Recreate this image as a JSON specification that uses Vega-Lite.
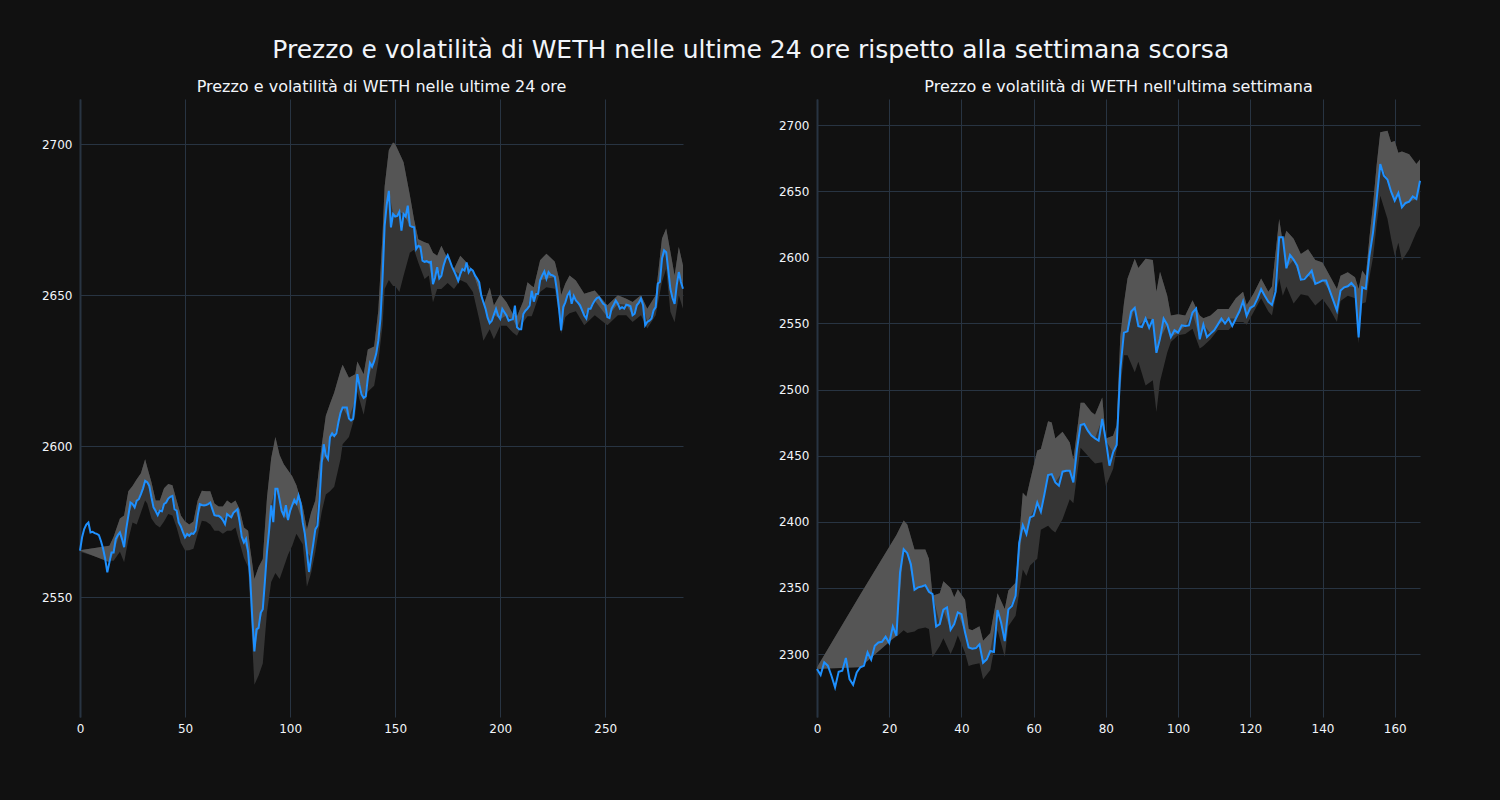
{
  "$schema": "https://vega.github.io/schema/vega-lite/v6.json",
  "background": "#111111",
  "padding": {"left": 41, "top": 38, "right": 80, "bottom": 70},
  "title": {"text": "Prezzo e volatilità di WETH nelle ultime 24 ore rispetto alla settimana scorsa", "fontSize": 25, "font": "DejaVu Sans", "fontWeight": "normal", "color": "#f2f5fa", "anchor": "middle", "offset": 16, "dx": 18},
  "config": {
    "view": {"stroke": null},
    "font": "DejaVu Sans",
    "title": {"font": "DejaVu Sans", "fontWeight": "normal", "color": "#f2f5fa"},
    "axis": {"labelFont": "DejaVu Sans", "labelFontSize": 12, "labelColor": "#f2f5fa", "gridColor": "#283442", "gridWidth": 1, "ticks": false, "title": null, "labelPadding": 8, "format": "d"},
    "axisX": {"labelPadding": 6, "labelFlush": false}
  },
  "spacing": 134,
  "bounds": "flush",
  "datasets": {
    "day": [
      {"x":0,"p":2565.4,"lo":2565,"hi":2565.5},{"x":1,"p":2569.8},{"x":2,"p":2572.5},{"x":3,"p":2574},{"x":4,"p":2574.7},{"x":5,"p":2571.4},{"x":6,"p":2571.6},{"x":7,"p":2571.2},{"x":8,"p":2570.9},{"x":9,"p":2570.5},
      {"x":10,"p":2568.5},{"x":11,"p":2566},{"x":12,"p":2562.6},{"x":13,"p":2558.2},{"x":14,"p":2561.5,"lo":2562,"hi":2567},{"x":15,"p":2564.8},{"x":16,"p":2564.8,"lo":2562,"hi":2570},{"x":17,"p":2569.2},{"x":18,"p":2570.5},{"x":19,"p":2571.4,"lo":2565,"hi":2576},
      {"x":20,"p":2569.2},{"x":21,"p":2566.5,"lo":2561.5,"hi":2577},{"x":22,"p":2572.5},{"x":23,"p":2576.9,"lo":2569,"hi":2585},{"x":24,"p":2581.3},{"x":25,"p":2580.8,"lo":2574.7,"hi":2586.8},{"x":26,"p":2579.7},{"x":27,"p":2581.9,"lo":2574,"hi":2589},{"x":28,"p":2582.4},{"x":29,"p":2584.1,"lo":2578,"hi":2591},
      {"x":30,"p":2586},{"x":31,"p":2588.5,"lo":2582,"hi":2595.6},{"x":32,"p":2588,"lo":2581,"hi":2593},{"x":33,"p":2586.8},{"x":34,"p":2583,"lo":2576,"hi":2588},{"x":35,"p":2579.7},{"x":36,"p":2578.5,"lo":2574,"hi":2582},{"x":37,"p":2577.1},{"x":38,"p":2578.6,"lo":2573,"hi":2582},{"x":39,"p":2578.4},
      {"x":40,"p":2580.8,"lo":2575,"hi":2586},{"x":41,"p":2581.3},{"x":42,"p":2582.6,"lo":2577.5,"hi":2587.4},{"x":43,"p":2583.2},{"x":44,"p":2583.5,"lo":2577,"hi":2587},{"x":45,"p":2579.1},{"x":46,"p":2578.6,"lo":2573,"hi":2582},{"x":47,"p":2574.7},{"x":48,"p":2573.4,"lo":2568,"hi":2577},{"x":49,"p":2571.5},
      {"x":50,"p":2569.8,"lo":2565.4,"hi":2575},{"x":51,"p":2570.9},{"x":52,"p":2570.3,"lo":2565.5,"hi":2574},{"x":53,"p":2571.1},{"x":54,"p":2570.9,"lo":2566,"hi":2575},{"x":55,"p":2572},{"x":56,"p":2576.9,"lo":2571,"hi":2582},{"x":57,"p":2580.8},{"x":58,"p":2580.5,"lo":2575.3,"hi":2585.2},{"x":59,"p":2580.3},
      {"x":60,"p":2580.5,"lo":2575,"hi":2585},{"x":61,"p":2580.8},{"x":62,"p":2581.3,"lo":2574,"hi":2585},{"x":63,"p":2579.1},{"x":64,"p":2577.1,"lo":2572,"hi":2581},{"x":65,"p":2576.9},{"x":66,"p":2576.9,"lo":2572,"hi":2580},{"x":67,"p":2576.4},{"x":68,"p":2575.5,"lo":2571,"hi":2580},{"x":69,"p":2574.2},
      {"x":70,"p":2577.5,"lo":2572,"hi":2582},{"x":71,"p":2576.9},{"x":72,"p":2576.4,"lo":2572,"hi":2581},{"x":73,"p":2577.9},{"x":74,"p":2578.5,"lo":2573,"hi":2582},{"x":75,"p":2579.1},{"x":76,"p":2574.8,"lo":2568,"hi":2579},{"x":77,"p":2570},{"x":78,"p":2568.1,"lo":2563,"hi":2573},{"x":79,"p":2569.3},
      {"x":80,"p":2565,"lo":2560,"hi":2572},{"x":81,"p":2556.5,"lo":2548,"hi":2566},{"x":82,"p":2543},{"x":83,"p":2532,"lo":2521,"hi":2556},{"x":84,"p":2539.3},{"x":85,"p":2539.8,"lo":2524,"hi":2560},{"x":86,"p":2544.8},{"x":87,"p":2546,"lo":2528,"hi":2562.6},{"x":88,"p":2555.2},{"x":89,"p":2565,"lo":2545,"hi":2583},
      {"x":90,"p":2572},{"x":91,"p":2580.4,"lo":2555,"hi":2596},{"x":92,"p":2574.8},{"x":93,"p":2585.9,"lo":2558,"hi":2603},{"x":94,"p":2585.9},{"x":95,"p":2582.2,"lo":2556,"hi":2597},{"x":96,"p":2578.5},{"x":97,"p":2577,"lo":2560,"hi":2594},{"x":98,"p":2580.4},{"x":99,"p":2575.5,"lo":2564,"hi":2592},
      {"x":100,"p":2578.5},{"x":101,"p":2580.4,"lo":2567,"hi":2590},{"x":102,"p":2582.2},{"x":103,"p":2581,"lo":2571,"hi":2587},{"x":104,"p":2583.6},{"x":105,"p":2581},{"x":106,"p":2574.8,"lo":2567.5,"hi":2580},{"x":107,"p":2571},{"x":108,"p":2565,"lo":2553.4,"hi":2572.4},{"x":109,"p":2558.3},
      {"x":110,"p":2563,"lo":2558,"hi":2578},{"x":111,"p":2567.5},{"x":112,"p":2572.4,"lo":2565,"hi":2582},{"x":113,"p":2573.6},{"x":114,"p":2582.2},{"x":115,"p":2594.4,"lo":2578,"hi":2600},{"x":116,"p":2600.6},{"x":117,"p":2596.9,"lo":2584,"hi":2610},{"x":118,"p":2595.7},{"x":119,"p":2603,"lo":2585,"hi":2614},
      {"x":120,"p":2604.2},{"x":121,"p":2603.3,"lo":2586.5,"hi":2617.7},{"x":122,"p":2604.2},{"x":123,"p":2607.9},{"x":124,"p":2611,"lo":2595.7,"hi":2625},{"x":125,"p":2612.8,"lo":2600.6,"hi":2626.9},{"x":126,"p":2612.8},{"x":127,"p":2612.8},{"x":128,"p":2609.1,"lo":2603,"hi":2622.6},{"x":129,"p":2608.5},
      {"x":130,"p":2609},{"x":131,"p":2615.3,"lo":2610.4,"hi":2623.8},{"x":132,"p":2623.8,"lo":2618,"hi":2628},{"x":133,"p":2620.2},{"x":134,"p":2617.1},{"x":135,"p":2615.9,"lo":2610.4,"hi":2623.8},{"x":136,"p":2616.5},{"x":137,"p":2622.6,"lo":2618,"hi":2632},{"x":138,"p":2627.5},{"x":139,"p":2626.3},
      {"x":140,"p":2628.1,"lo":2620,"hi":2633},{"x":141,"p":2630.6},{"x":142,"p":2634.9,"lo":2628,"hi":2645},{"x":143,"p":2642.2},{"x":144,"p":2655.7,"lo":2640,"hi":2670},{"x":145,"p":2673,"lo":2652,"hi":2686},{"x":146,"p":2680},{"x":147,"p":2684.5,"lo":2655,"hi":2698},{"x":148,"p":2672.4},{"x":149,"p":2676.8,"lo":2653,"hi":2700.5},
      {"x":150,"p":2676,"lo":2653,"hi":2700},{"x":151,"p":2676.2},{"x":152,"p":2677.6,"lo":2651,"hi":2697},{"x":153,"p":2671.3},{"x":154,"p":2676.8,"lo":2656.4,"hi":2694},{"x":155,"p":2676},{"x":156,"p":2679.6},{"x":157,"p":2673,"lo":2664,"hi":2683},{"x":158,"p":2672.6},{"x":159,"p":2672.4,"lo":2665,"hi":2675},
      {"x":160,"p":2665.2},{"x":161,"p":2666.3,"lo":2660.8,"hi":2668.5},{"x":162,"p":2666},{"x":163,"p":2661.4},{"x":164,"p":2661,"lo":2655.3,"hi":2667.5},{"x":165,"p":2661.2},{"x":166,"p":2660.8,"lo":2656.5,"hi":2667},{"x":167,"p":2661},{"x":168,"p":2653.6,"lo":2647.6,"hi":2664},{"x":169,"p":2655.8},
      {"x":170,"p":2659.2,"lo":2652,"hi":2663},{"x":171,"p":2655.5},{"x":172,"p":2656.4,"lo":2652,"hi":2666.3},{"x":173,"p":2659.7},{"x":174,"p":2661.9},{"x":175,"p":2663.2,"lo":2654,"hi":2662},{"x":176,"p":2661.4},{"x":177,"p":2659.5},{"x":178,"p":2658,"lo":2652,"hi":2658.6},{"x":179,"p":2656.4},
      {"x":180,"p":2654.7},{"x":181,"p":2656.9,"lo":2655,"hi":2663},{"x":182,"p":2658.6},{"x":183,"p":2658.1},{"x":184,"p":2660.8,"lo":2654,"hi":2660.8},{"x":185,"p":2657.5},{"x":186,"p":2658.6},{"x":187,"p":2658.1,"lo":2651,"hi":2657.5},{"x":188,"p":2656.5},{"x":189,"p":2655.5},
      {"x":190,"p":2654.2,"lo":2642,"hi":2651},{"x":191,"p":2649.8},{"x":192,"p":2647.6,"lo":2634.9,"hi":2646.5},{"x":193,"p":2645.5},{"x":194,"p":2642.5},{"x":195,"p":2640.7,"lo":2638.7,"hi":2652.5},{"x":196,"p":2641.5},{"x":197,"p":2643.5,"lo":2635.4,"hi":2646.5},{"x":198,"p":2645.4},{"x":199,"p":2643.2},
      {"x":200,"p":2642.1,"lo":2639.8,"hi":2650.3},{"x":201,"p":2645.4},{"x":202,"p":2644.3},{"x":203,"p":2643.2,"lo":2639.8,"hi":2647.6},{"x":204,"p":2641.5},{"x":205,"p":2641.8},{"x":206,"p":2642,"lo":2637.6,"hi":2643.7},{"x":207,"p":2646.5},{"x":208,"p":2639.3,"lo":2636.5,"hi":2643},{"x":209,"p":2638.7},
      {"x":210,"p":2638.7},{"x":211,"p":2643.7,"lo":2641,"hi":2648},{"x":212,"p":2644.8},{"x":213,"p":2645.5,"lo":2643,"hi":2654.2},{"x":214,"p":2646.5},{"x":215,"p":2651.4,"lo":2643,"hi":2653},{"x":216,"p":2647.8,"lo":2644.9,"hi":2652.6},{"x":217,"p":2650.3},{"x":218,"p":2650.4},{"x":219,"p":2654.9,"lo":2651,"hi":2661.5},
      {"x":220,"p":2656.5},{"x":221,"p":2657.8},{"x":222,"p":2655.4,"lo":2652.6,"hi":2663.7},{"x":223,"p":2657.6},{"x":224,"p":2656.7},{"x":225,"p":2656.5},{"x":226,"p":2656,"lo":2652.1,"hi":2661},{"x":227,"p":2651.5},{"x":228,"p":2645.5,"lo":2643.2,"hi":2655.4},{"x":229,"p":2638.3,"lo":2637.2,"hi":2650},
      {"x":230,"p":2646},{"x":231,"p":2647.6,"lo":2642.7,"hi":2653.8},{"x":232,"p":2649.9},{"x":233,"p":2651,"lo":2644,"hi":2656.5},{"x":234,"p":2647.1},{"x":235,"p":2649.7},{"x":236,"p":2648.2,"lo":2644.6,"hi":2654.8},{"x":237,"p":2647.5},{"x":238,"p":2646.6},{"x":239,"p":2644.9},
      {"x":240,"p":2643.2,"lo":2640,"hi":2650.4},{"x":241,"p":2642.2},{"x":242,"p":2645.5},{"x":243,"p":2645.5},{"x":244,"p":2647},{"x":245,"p":2648.2,"lo":2643.3,"hi":2651.5},{"x":246,"p":2649},{"x":247,"p":2649.3},{"x":248,"p":2648.2},{"x":249,"p":2647.1},
      {"x":250,"p":2646.6},{"x":251,"p":2642.7,"lo":2640,"hi":2646.6},{"x":252,"p":2642.4},{"x":253,"p":2645.5},{"x":254,"p":2646.8},{"x":255,"p":2648.2},{"x":256,"p":2647.1,"lo":2643.3,"hi":2649.9},{"x":257,"p":2645.5},{"x":258,"p":2646},{"x":259,"p":2645.5},
      {"x":260,"p":2646.8,"lo":2643.3,"hi":2648.8},{"x":261,"p":2646.6},{"x":262,"p":2646.3},{"x":263,"p":2643.3,"lo":2641.1,"hi":2647.7},{"x":264,"p":2643.8},{"x":265,"p":2646.6},{"x":266,"p":2647.5},{"x":267,"p":2648.8,"lo":2643.3,"hi":2649.9},{"x":268,"p":2646.6},{"x":269,"p":2640},
      {"x":270,"p":2641.1,"lo":2638.9,"hi":2645.5},{"x":271,"p":2641.5},{"x":272,"p":2642.2},{"x":273,"p":2644.9},{"x":274,"p":2646,"lo":2643.3,"hi":2649.9},{"x":275,"p":2653.8},{"x":276,"p":2654.3},{"x":277,"p":2662,"lo":2654.3,"hi":2668.7},{"x":278,"p":2664.8},{"x":279,"p":2664.2,"lo":2658.7,"hi":2672},
      {"x":280,"p":2658.2},{"x":281,"p":2652,"lo":2644.5,"hi":2664.3},{"x":282,"p":2649},{"x":283,"p":2647.1,"lo":2641,"hi":2656.5},{"x":284,"p":2653.2},{"x":285,"p":2657.6,"lo":2649.9,"hi":2665.9},{"x":286,"p":2654.3},{"x":287,"p":2652.1,"lo":2645.5,"hi":2659.8}
    ],
    "week": [
      {"x":0,"p":2288.7,"lo":2288,"hi":2290},{"x":1,"p":2284.1},{"x":2,"p":2293.7},{"x":3,"p":2291.2},{"x":4,"p":2283.6},{"x":5,"p":2274.8},{"x":6,"p":2286.6},{"x":7,"p":2287.4},{"x":8,"p":2297},{"x":9,"p":2281.1},
      {"x":10,"p":2276.8},{"x":11,"p":2286.1},{"x":12,"p":2290,"lo":2300,"hi":2345},{"x":13,"p":2291.2},{"x":14,"p":2301.3},{"x":15,"p":2295.7},{"x":16,"p":2306.3},{"x":17,"p":2308.8},{"x":18,"p":2309.3},{"x":19,"p":2313.1},
      {"x":20,"p":2308.3},{"x":21,"p":2320.9},{"x":22,"p":2313.9,"lo":2313,"hi":2390},{"x":23,"p":2361.7},{"x":24,"p":2379.3,"lo":2318,"hi":2401},{"x":25,"p":2376.3,"lo":2316,"hi":2398},{"x":26,"p":2368},{"x":27,"p":2348.6,"lo":2317,"hi":2379},{"x":28,"p":2350.4,"lo":2319,"hi":2379},{"x":29,"p":2351.1},
      {"x":30,"p":2352.1,"lo":2320,"hi":2379},{"x":31,"p":2347.1,"lo":2319,"hi":2372},{"x":32,"p":2345.3,"lo":2297.5,"hi":2344},{"x":33,"p":2320.9},{"x":34,"p":2322.7,"lo":2306,"hi":2346},{"x":35,"p":2333.5,"lo":2312,"hi":2355},{"x":36,"p":2335.3},{"x":37,"p":2318.4,"lo":2300,"hi":2350},{"x":38,"p":2322.7,"lo":2306,"hi":2343},{"x":39,"p":2331.5,"lo":2314,"hi":2349},
      {"x":40,"p":2330.2},{"x":41,"p":2316.4,"lo":2301,"hi":2341},{"x":42,"p":2305,"lo":2291,"hi":2319},{"x":43,"p":2304,"lo":2292,"hi":2318},{"x":44,"p":2304.5},{"x":45,"p":2307.3,"lo":2293,"hi":2321},{"x":46,"p":2293.4,"lo":2281,"hi":2310},{"x":47,"p":2296},{"x":48,"p":2302.3,"lo":2288,"hi":2316},{"x":49,"p":2301.5},
      {"x":50,"p":2333.3,"lo":2318,"hi":2346},{"x":51,"p":2323.7},{"x":52,"p":2309.8,"lo":2298,"hi":2334},{"x":53,"p":2333.8,"lo":2321,"hi":2348},{"x":54,"p":2336.4},{"x":55,"p":2344,"lo":2329,"hi":2354},{"x":56,"p":2384},{"x":57,"p":2397.5,"lo":2364,"hi":2422},{"x":58,"p":2390.7,"lo":2359,"hi":2419},{"x":59,"p":2403.3,"lo":2367,"hi":2431},
      {"x":60,"p":2404.5},{"x":61,"p":2414.6,"lo":2372,"hi":2454},{"x":62,"p":2407.6,"lo":2394,"hi":2455},{"x":63,"p":2421},{"x":64,"p":2435.4,"lo":2397,"hi":2476},{"x":65,"p":2436.1,"lo":2394,"hi":2475},{"x":66,"p":2429.8,"lo":2392,"hi":2463},{"x":67,"p":2427.3},{"x":68,"p":2437.9,"lo":2402,"hi":2468},{"x":69,"p":2438.6},
      {"x":70,"p":2438.6,"lo":2417,"hi":2460},{"x":71,"p":2429.8,"lo":2414,"hi":2447},{"x":72,"p":2455},{"x":73,"p":2473.2,"lo":2456,"hi":2490},{"x":74,"p":2474,"lo":2453,"hi":2490},{"x":75,"p":2468.9},{"x":76,"p":2465.2,"lo":2447,"hi":2483},{"x":77,"p":2463.1,"lo":2444,"hi":2481},{"x":78,"p":2461.4},{"x":79,"p":2477.8,"lo":2445,"hi":2494},
      {"x":80,"p":2461.4,"lo":2427,"hi":2463},{"x":81,"p":2442.4},{"x":82,"p":2452.5,"lo":2440,"hi":2465},{"x":83,"p":2458.1,"lo":2455,"hi":2473},{"x":84,"p":2515,"lo":2500,"hi":2540},{"x":85,"p":2543,"lo":2526,"hi":2565},{"x":86,"p":2544,"lo":2526,"hi":2584},{"x":87,"p":2559},{"x":88,"p":2561.8,"lo":2513,"hi":2599},{"x":89,"p":2548,"lo":2521,"hi":2592},
      {"x":90,"p":2547.3},{"x":91,"p":2553.7,"lo":2503,"hi":2599},{"x":92,"p":2546.6},{"x":93,"p":2553.2,"lo":2507,"hi":2598},{"x":94,"p":2527.8,"lo":2483,"hi":2574},{"x":95,"p":2538.5,"lo":2506,"hi":2589},{"x":96,"p":2553.7},{"x":97,"p":2549.1,"lo":2528,"hi":2571},{"x":98,"p":2539.7,"lo":2536,"hi":2556},{"x":99,"p":2544.8},
      {"x":100,"p":2543,"lo":2541,"hi":2557},{"x":101,"p":2548.6},{"x":102,"p":2548.1,"lo":2542,"hi":2556},{"x":103,"p":2548.5},{"x":104,"p":2558.2,"lo":2546,"hi":2567.6},{"x":105,"p":2561.3},{"x":106,"p":2538,"lo":2531,"hi":2556},{"x":107,"p":2549.1,"lo":2533,"hi":2554},{"x":108,"p":2539.7},{"x":109,"p":2542.3,"lo":2538,"hi":2556},
      {"x":110,"p":2544.8},{"x":111,"p":2549.1,"lo":2545,"hi":2561},{"x":112,"p":2553.7},{"x":113,"p":2549.9},{"x":114,"p":2553.7,"lo":2545,"hi":2561},{"x":115,"p":2548.1},{"x":116,"p":2553.7,"lo":2551,"hi":2569},{"x":117,"p":2559.2},{"x":118,"p":2566.8,"lo":2551,"hi":2574},{"x":119,"p":2555.7,"lo":2549,"hi":2564},
      {"x":120,"p":2561.8},{"x":121,"p":2563.3,"lo":2559,"hi":2573},{"x":122,"p":2568.9},{"x":123,"p":2575.9,"lo":2569,"hi":2584},{"x":124,"p":2570.9},{"x":125,"p":2566.3,"lo":2559,"hi":2574},{"x":126,"p":2564,"lo":2556,"hi":2578},{"x":127,"p":2574},{"x":128,"p":2615.1,"lo":2584,"hi":2629},{"x":129,"p":2615.1,"lo":2571,"hi":2611},
      {"x":130,"p":2591.7,"lo":2578,"hi":2620},{"x":131,"p":2601.8},{"x":132,"p":2598.2,"lo":2565,"hi":2614},{"x":133,"p":2593.7},{"x":134,"p":2583.1,"lo":2572,"hi":2602.5},{"x":135,"p":2583.5},{"x":136,"p":2586.6,"lo":2571,"hi":2606},{"x":137,"p":2589.9},{"x":138,"p":2579.9,"lo":2563.5,"hi":2598},{"x":139,"p":2581},
      {"x":140,"p":2582.4,"lo":2568.5,"hi":2596},{"x":141,"p":2582.4},{"x":142,"p":2574.8,"lo":2561,"hi":2586},{"x":143,"p":2567.3},{"x":144,"p":2559.7,"lo":2551,"hi":2576},{"x":145,"p":2574.8,"lo":2567,"hi":2586},{"x":146,"p":2577.3},{"x":147,"p":2578.1,"lo":2571,"hi":2588.7},{"x":148,"p":2580.6},{"x":149,"p":2577.3,"lo":2569,"hi":2585},
      {"x":150,"p":2539.5,"lo":2535,"hi":2576},{"x":151,"p":2577.3,"lo":2565,"hi":2590},{"x":152,"p":2576.1,"lo":2566,"hi":2586},{"x":153,"p":2601.3,"lo":2585,"hi":2615},{"x":154,"p":2618.9,"lo":2600,"hi":2640},{"x":155,"p":2644.1,"lo":2625,"hi":2670},{"x":156,"p":2670.5,"lo":2646.6,"hi":2694.5},{"x":157,"p":2661.7},{"x":158,"p":2658.7,"lo":2629,"hi":2695.7},{"x":159,"p":2649.6,"lo":2614,"hi":2687},
      {"x":160,"p":2642.8,"lo":2601,"hi":2688},{"x":161,"p":2648.6,"lo":2611,"hi":2679},{"x":162,"p":2637.8,"lo":2597.5,"hi":2680},{"x":163,"p":2641.1},{"x":164,"p":2642.1,"lo":2606,"hi":2678},{"x":165,"p":2646.1},{"x":166,"p":2644.1,"lo":2619,"hi":2670.5},{"x":167,"p":2657.9,"lo":2624,"hi":2674}
    ]
  },
  "hconcat": [
    {
      "width": 603, "height": 618,
      "title": {"text": "Prezzo e volatilità di WETH nelle ultime 24 ore", "fontSize": 16, "offset": 4},
      "data": {"name": "day"},
      "encoding": {
        "x": {"field": "x", "type": "quantitative", "scale": {"domain": [0, 287], "nice": false, "zero": false}, "axis": {"values": [0, 50, 100, 150, 200, 250], "domain": false, "grid": true}},
        "y": {"type": "quantitative", "scale": {"domain": [2510.3, 2714.9], "nice": false, "zero": false}, "axis": {"values": [2550, 2600, 2650, 2700], "domain": true, "domainColor": "#283442", "domainWidth": 2, "grid": true}}
      },
      "layer": [
        {"transform": [{"filter": "isValid(datum.hi)"}], "mark": {"type": "area", "color": "#353535"}, "encoding": {"y": {"field": "lo"}, "y2": {"field": "hi"}}},
        {"transform": [{"filter": "isValid(datum.hi)"}], "mark": {"type": "area", "color": "#555555"}, "encoding": {"y": {"field": "p"}, "y2": {"field": "hi"}}},
        {"mark": {"type": "line", "color": "#1e90ff", "strokeWidth": 2}, "encoding": {"y": {"field": "p"}}}
      ]
    },
    {
      "width": 603, "height": 618,
      "title": {"text": "Prezzo e volatilità di WETH nell'ultima settimana", "fontSize": 16, "offset": 4},
      "data": {"name": "week"},
      "encoding": {
        "x": {"field": "x", "type": "quantitative", "scale": {"domain": [0, 167], "nice": false, "zero": false}, "axis": {"values": [0, 20, 40, 60, 80, 100, 120, 140, 160], "domain": false, "grid": true}},
        "y": {"type": "quantitative", "scale": {"domain": [2252.4, 2719.7], "nice": false, "zero": false}, "axis": {"values": [2300, 2350, 2400, 2450, 2500, 2550, 2600, 2650, 2700], "domain": true, "domainColor": "#283442", "domainWidth": 2, "grid": true}}
      },
      "layer": [
        {"transform": [{"filter": "isValid(datum.hi)"}], "mark": {"type": "area", "color": "#353535"}, "encoding": {"y": {"field": "lo"}, "y2": {"field": "hi"}}},
        {"transform": [{"filter": "isValid(datum.hi)"}], "mark": {"type": "area", "color": "#555555"}, "encoding": {"y": {"field": "p"}, "y2": {"field": "hi"}}},
        {"mark": {"type": "line", "color": "#1e90ff", "strokeWidth": 2}, "encoding": {"y": {"field": "p"}}}
      ]
    }
  ]
}
